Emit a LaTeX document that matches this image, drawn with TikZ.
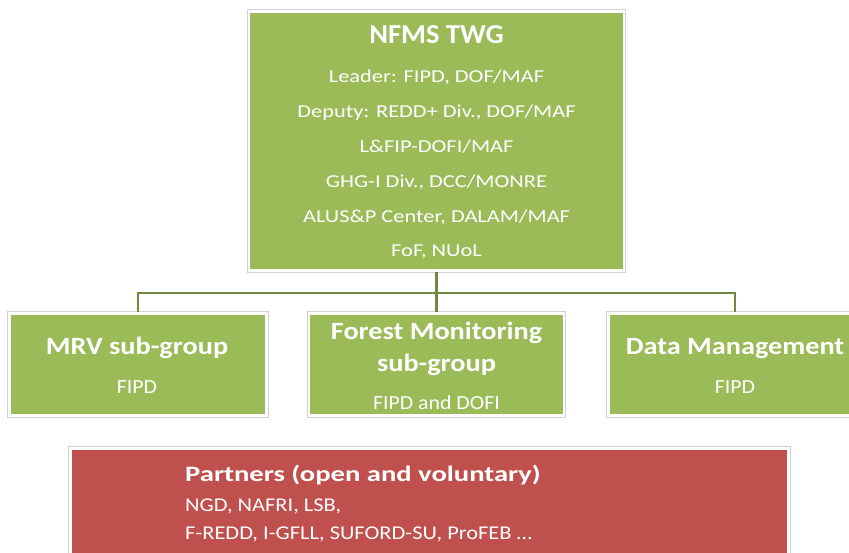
\documentclass[tikz,border=0pt]{standalone}
\usepackage{fontspec}
\setmainfont{Carlito}
\newfontfamily\ftwg[FakeStretch=1.04]{Carlito}
\newfontfamily\fbody[FakeStretch=1.23]{Carlito}
\newfontfamily\fsub[FakeStretch=1.14]{Carlito}
\newfontfamily\fsubbody[FakeStretch=1.09]{Carlito}
\newfontfamily\fpt[FakeStretch=1.30]{Carlito}
\newfontfamily\fpb[FakeStretch=1.15]{Carlito}
\definecolor{boxgreen}{HTML}{9BBB59}
\definecolor{boxred}{HTML}{C0504D}
\definecolor{linkgreen}{HTML}{71893F}
\definecolor{framegray}{HTML}{D0D0D0}
\begin{document}
\begin{tikzpicture}[x=1pt,y=-1pt,
  frame/.style={rectangle, inner sep=0pt, draw=white, line width=2.5pt,
                preaction={draw=framegray, line width=4.2pt}},
  gbox/.style={frame, fill=boxgreen},
  rbox/.style={frame, fill=boxred},
  conn/.style={draw=linkgreen, line width=2.2pt},
  txt/.style={anchor=base, text=white, inner sep=0pt},
  twgtitle/.style={txt, font=\ftwg\bfseries\fontsize{27.4}{30}\selectfont},
  twgline/.style={txt, font=\fbody\fontsize{18.2}{20}\selectfont},
  subtitle/.style={txt, font=\fsub\bfseries\fontsize{24.8}{26}\selectfont},
  subline/.style={txt, font=\fsubbody\fontsize{20}{22}\selectfont},
  pttitle/.style={txt, anchor=base west, font=\fpt\bfseries\fontsize{22}{24}\selectfont},
  ptline/.style={txt, anchor=base west, font=\fpb\fontsize{19.5}{21}\selectfont}]
\clip (0,0) rectangle (849,553);
\fill[white] (0,0) rectangle (849,553);
% boxes
\node[gbox, minimum width=375pt, minimum height=259pt] (twg) at (436.5,141) {};
\node[gbox, minimum width=257pt, minimum height=102pt] (mrv) at (138,364.5) {};
\node[gbox, minimum width=255pt, minimum height=102pt] (fm) at (436.5,364.5) {};
\node[gbox, minimum width=253pt, minimum height=102pt] (dm) at (735,364.5) {};
\node[rbox, minimum width=718pt, minimum height=160pt] (pt) at (429.5,528.5) {};
% connectors
\coordinate (bus) at (436.5,293);
\draw[conn] (mrv.north) |- (bus) -| (dm.north);
\draw[conn] (twg.south) -- (fm.north);
% top box text
\node[twgtitle] (twg-1) at (436.5,43.3) {NFMS TWG};
\node[twgline] (twg-2) at (436.5,82.7) {Leader: FIPD, DOF/MAF};
\node[twgline] (twg-3) at (436.5,117.7) {Deputy: REDD+ Div., DOF/MAF};
\node[twgline] (twg-4) at (436.5,152.7) {L\&FIP-DOFI/MAF};
\node[twgline] (twg-5) at (436.5,187.4) {GHG-I Div., DCC/MONRE};
\node[twgline] (twg-6) at (436.5,222.6) {ALUS\&P Center, DALAM/MAF};
\node[twgline] (twg-7) at (436.5,256.8) {FoF, NUoL};
% sub-group text
\node[subtitle] (mrv-1) at (137,355) {MRV sub-group};
\node[subline] (mrv-2) at (137,393.5) {FIPD};
\node[subtitle] (fm-1) at (436.5,339.3) {Forest Monitoring};
\node[subtitle] (fm-2) at (436.5,371) {sub-group};
\node[subline] (fm-3) at (436.5,409.3) {FIPD and DOFI};
\node[subtitle] (dm-1) at (735,355) {Data Management};
\node[subline] (dm-2) at (735,393.5) {FIPD};
% partners text
\node[pttitle] (pt-1) at (185,481.7) {Partners (open and voluntary)};
\node[ptline] (pt-2) at (185,511.7) {NGD, NAFRI, LSB,};
\node[ptline] (pt-3) at (185,539.3) {F-REDD, I-GFLL, SUFORD-SU, ProFEB …};
\end{tikzpicture}
\end{document}
